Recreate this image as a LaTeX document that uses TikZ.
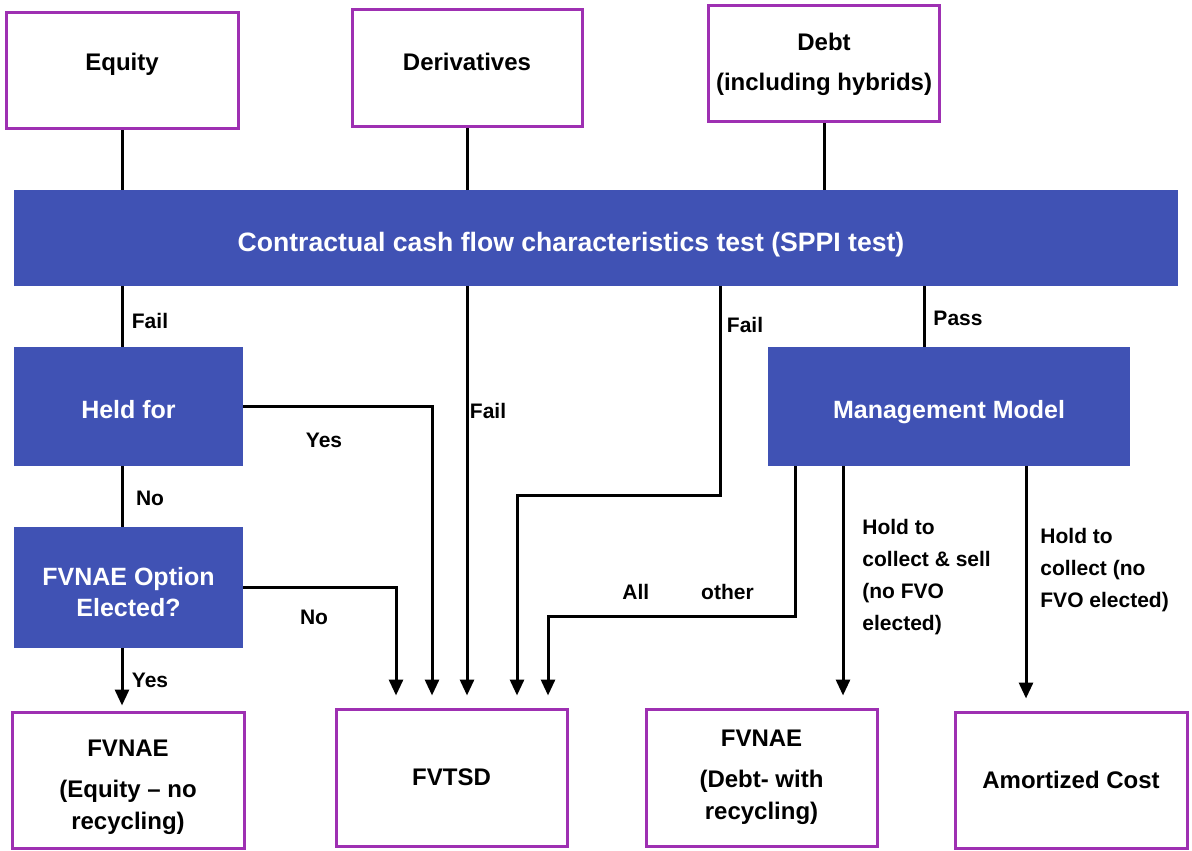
\documentclass[tikz,border=0pt]{standalone}
\usepackage{fontspec}
\setmainfont{Liberation Sans}
\usepackage{tikz}
\usetikzlibrary{arrows.meta}

\definecolor{boxpurple}{RGB}{158,48,178}
\definecolor{testblue}{RGB}{64,82,180}

\begin{document}
\begin{tikzpicture}[x=0.5pt, y=-0.5pt, every node/.style={align=center},
    asset/.style={draw=boxpurple, line width=1.5pt, fill=white, inner sep=0pt, font=\bfseries\fontsize{12}{20}\selectfont},
    result/.style={asset, font=\bfseries\fontsize{12}{16}\selectfont},
    test/.style={fill=testblue, text=white, inner sep=0pt, font=\bfseries\fontsize{12.5}{15.5}\selectfont},
    lbl/.style={inner sep=0pt, font=\bfseries\fontsize{10.5}{16}\selectfont},
    link/.style={line width=1.5pt},
    arrow/.style={link, -{Triangle[width=7pt, length=8pt]}, shorten >=6pt}]
            \useasboundingbox (0,0) rectangle (1192,850);

            % instrument types
            \node[asset, minimum width=116pt, minimum height=58pt, text height=9pt, text depth=9.4pt] (equity) at (122,71) {Equity};
            \node[asset, minimum width=115pt, minimum height=58.5pt, text height=9pt, text depth=6.9pt] (deriv) at (467,68.5) {Derivatives};
            \node[asset, minimum width=115.5pt, minimum height=58pt] (debt) at (824,64) {Debt\\(including hybrids)};

            % tests
            \node[test, minimum width=582pt, minimum height=48pt, text height=13.5pt, text depth=0pt, font=\bfseries\fontsize{13.3}{16}\selectfont] (sppi) at (596,238) {Contractual cash flow characteristics test (SPPI test)\hspace*{25pt}};
            \node[test, minimum width=114.5pt, minimum height=59.5pt, text height=11.5pt, text depth=0pt] (held) at (128.5,406.5) {Held for};
            \node[test, minimum width=114.5pt, minimum height=60.5pt] (elect) at (128.5,587.5) {\rule{0pt}{13.9pt}FVNAE Option\\Elected?};
            \node[test, minimum width=181pt, minimum height=59.5pt, text height=11.5pt, text depth=0pt] (mgmt) at (949,406.5) {Management Model};

            % outcomes
            \node[result, minimum width=116pt, minimum height=68pt] (fvnaeq) at (128,780) {\rule{0pt}{15.8pt}FVNAE\\[4.5pt](Equity – no\\recycling)};
            \node[result, minimum width=115.5pt, minimum height=68.5pt] (fvtsd) at (451.5,777.5) {FVTSD};
            \node[result, minimum width=115.5pt, minimum height=68.5pt] (fvnadebt) at (761.5,777.5) {FVNAE\\[4.5pt](Debt- with\\recycling)};
            \node[result, minimum width=116pt, minimum height=68pt] (amort) at (1071,780) {Amortized Cost};

            \draw[link] (equity) -- (equity |- sppi.north);
            \draw[link] (deriv) -- (deriv |- sppi.north);
            \draw[link] (debt) -- (debt |- sppi.north);

            \draw[link] (sppi.south -| equity) -- (held.north -| equity);
            \draw[link] (held.south -| equity) -- (elect.north -| equity);
            \draw[arrow, shorten >=2.5pt] (elect.south -| equity) -- (fvnaeq.north -| equity);

            \draw[arrow] (held.east) -| ([xshift=-9.75pt]fvtsd.north);
            \draw[arrow] (elect.east) -| ([xshift=-27.75pt]fvtsd.north);
            \draw[arrow] (sppi.south -| deriv) -- (fvtsd.north -| deriv);
            \draw[arrow] ([xshift=62pt]sppi.south) -- ++(0,209) -| ([xshift=32.75pt]fvtsd.north);

            \draw[link] ([xshift=164pt]sppi.south) -- ([xshift=164pt]sppi.south |- mgmt.north);
            \draw[arrow] ([xshift=-77pt]mgmt.south) -- ++(0,150) -| ([xshift=48.25pt]fvtsd.north);
            \draw[arrow] ([xshift=-53pt]mgmt.south) -- ([xshift=-53pt]mgmt.south |- fvnadebt.north);
            \draw[arrow] ([xshift=38.5pt]mgmt.south) -- ([xshift=38.5pt]mgmt.south |- amort.north);

            % connector labels
            \node[lbl] (failEq) at (150,321) {Fail};
            \node[lbl] (failDer) at (488,411) {Fail};
            \node[lbl] (failDebt) at (745,325) {Fail};
            \node[lbl] (pass) at (958,318) {Pass};
            \node[lbl] (yesHeld) at (324,440) {Yes};
            \node[lbl] (noHeld) at (150,498) {No};
            \node[lbl] (noElect) at (314,617) {No};
            \node[lbl] (yesElect) at (150,680) {Yes};
            \node[lbl] (allOther) at (688,592) {All\hspace{26pt}other};
            \node[lbl, anchor=west, align=left] (holdSell) at (862,577) {Hold to\\collect \& sell\\(no FVO\\elected)};
            \node[lbl, anchor=west, align=left] (holdColl) at (1040,570) {Hold to\\collect (no\\FVO elected)};
        \end{tikzpicture}
\end{document}
